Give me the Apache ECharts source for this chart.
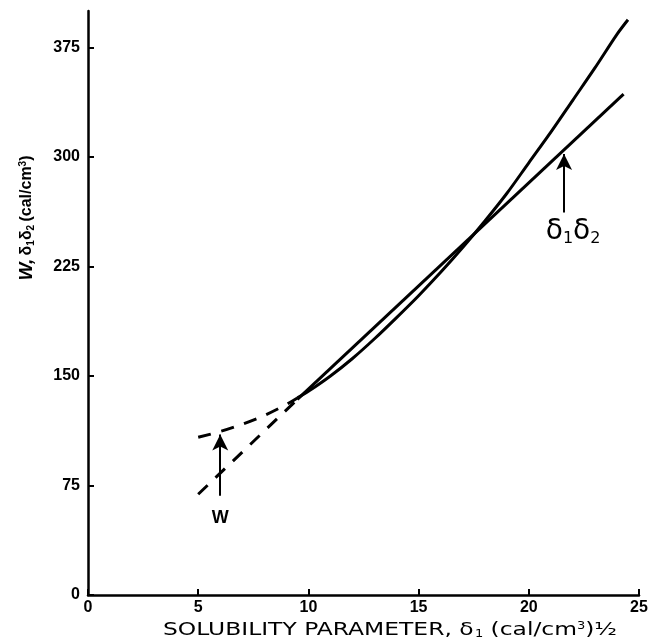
<!DOCTYPE html>
<html>
<head>
<meta charset="utf-8">
<script src="https://cdn.jsdelivr.net/npm/echarts@6/dist/echarts.min.js"></script>
<style>
html, body { margin: 0; padding: 0; background: #fff; }
#main { width: 653px; height: 644px; }
</style>
</head>
<body>
<div id="main"></div>
<script>
// W curve (dashed below ~9.5)
var wX = [5, 6, 7, 8, 9, 9.5, 10, 11, 12, 13, 14, 15, 16, 17, 18, 19, 20, 21, 22, 23, 24, 24.5];
var wY = [108, 112, 117, 123, 130.5, 135, 139.5, 150, 162, 175.5, 190, 205, 221, 238, 256, 275, 296, 317, 339, 361, 384, 394];
// delta1*delta2 straight line
var dX = [5, 9.5, 24.3];
var dY = [69, 134, 343];
var xTicks = [0, 5, 10, 15, 20, 25];
var yTicks = [0, 75, 150, 225, 300, 375];
var dashEnd = 9.5;

function pts(xs, ys, lo, hi) {
	var out = [];
	for (var i = 0; i < xs.length; i++) {
		if (xs[i] >= lo && xs[i] <= hi) out.push([xs[i], ys[i]]);
	}
	return out;
}

var chart = echarts.init(document.getElementById('main'));
var lbl = { fontFamily: 'Liberation Sans', fontWeight: 'bold', fontSize: 16, color: '#000' };
var dashed = { color: '#000', width: 3, type: [13, 11] };
var solid = { color: '#000', width: 3 };

chart.setOption({
	animation: false,
	backgroundColor: '#fff',
	grid: { left: 88, right: 14, top: 11, bottom: 49 },
	xAxis: {
		type: 'value', min: 0, max: 25, interval: 5,
		splitLine: { show: false },
		axisLine: { lineStyle: { color: '#000', width: 2.5 } },
		axisTick: { inside: true, length: 6, lineStyle: { color: '#000', width: 2 } },
		axisLabel: Object.assign({ margin: 5 }, lbl)
	},
	yAxis: {
		type: 'value', min: 0, max: 400, interval: 75,
		splitLine: { show: false },
		axisLine: { lineStyle: { color: '#000', width: 2.5 } },
		axisTick: { inside: true, length: 6, customValues: yTicks, lineStyle: { color: '#000', width: 2 } },
		axisLabel: Object.assign({ margin: 8, customValues: yTicks }, lbl)
	},
	graphic: [{
		// y axis title
		type: 'text',
		x: 27, y: 218,
		rotation: Math.PI / 2,
		style: {
			text: '{w|W,} {d|δ}{s|1}{d|δ}{s|2} {d|(cal/cm}{p|3}{d|)}',
			align: 'center', verticalAlign: 'middle',
			rich: {
				w: { fontFamily: 'Liberation Sans', fontWeight: 'bold', fontStyle: 'italic', fontSize: 19, fill: '#000' },
				d: { fontFamily: 'Liberation Sans', fontWeight: 'bold', fontSize: 16, fill: '#000' },
				s: { fontFamily: 'Liberation Sans', fontWeight: 'bold', fontSize: 10, fill: '#000', padding: [8, 0, 0, 0] },
				p: { fontFamily: 'Liberation Sans', fontWeight: 'bold', fontSize: 10, fill: '#000', padding: [0, 0, 8, 0] }
			}
		}
	}, {
		// x axis title, wide lettering
		type: 'text',
		x: 390, y: 630,
		scaleX: 1.3,
		style: {
			text: 'SOLUBILITY PARAMETER, {d|δ}{s|1} (cal/cm{p|3}){d|½}',
			align: 'center', verticalAlign: 'middle',
			fontFamily: 'DejaVu Sans', fontSize: 18, fill: '#000',
			rich: {
				d: { fontFamily: 'DejaVu Sans', fontSize: 18, fill: '#000' },
				s: { fontFamily: 'DejaVu Sans', fontSize: 10, fill: '#000', padding: [8, 0, 0, 1] },
				p: { fontFamily: 'DejaVu Sans', fontSize: 10, fill: '#000', padding: [0, 0, 8, 0] }
			}
		}
	}],
	series: [{
		name: 'W dashed', type: 'line', showSymbol: false, smooth: 0.3,
		lineStyle: dashed, data: pts(wX, wY, 0, dashEnd),
		markLine: {
			silent: true, symbol: ['none', 'arrow'], symbolSize: [12, 16],
			lineStyle: { color: '#000', width: 2, type: 'solid' },
			label: { position: 'start', formatter: 'W', fontFamily: 'Liberation Sans', fontWeight: 'bold', fontSize: 18, color: '#000', distance: 13 },
			data: [[{ coord: [6, 68] }, { coord: [6, 110] }]]
		}
	}, {
		name: 'W', type: 'line', showSymbol: false, smooth: 0.3,
		lineStyle: solid, data: pts(wX, wY, dashEnd, 30)
	}, {
		name: 'd1d2 dashed', type: 'line', showSymbol: false,
		lineStyle: dashed, data: pts(dX, dY, 0, dashEnd)
	}, {
		name: 'd1d2', type: 'line', showSymbol: false,
		lineStyle: solid, data: pts(dX, dY, dashEnd, 30),
		markLine: {
			silent: true, symbol: ['none', 'arrow'], symbolSize: [12, 16],
			lineStyle: { color: '#000', width: 2, type: 'solid' },
			label: {
				position: 'start', distance: 4,
				padding: [0, 0, 0, 18],
				formatter: '{d|δ}{s|1}{d|δ}{s|2}',
				rich: {
					d: { fontFamily: 'DejaVu Sans', fontSize: 28, color: '#000' },
					s: { fontFamily: 'DejaVu Sans', fontSize: 16, color: '#000', padding: [14, 0, 0, 0] }
				}
			},
			data: [[{ coord: [21.6, 262] }, { coord: [21.6, 302] }]]
		}
	}]
});
</script>
</body>
</html>
